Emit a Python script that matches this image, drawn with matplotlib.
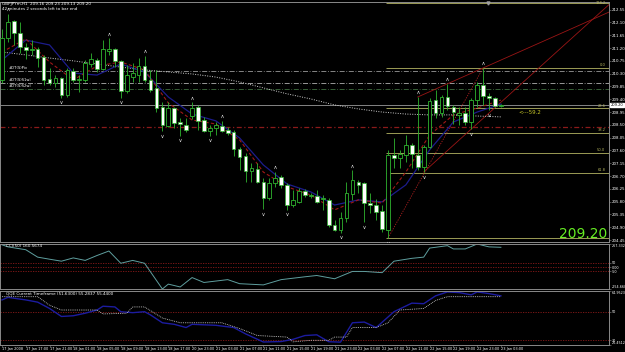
import matplotlib
matplotlib.use("Agg")
import matplotlib.pyplot as plt
import matplotlib.transforms as mtrans
import numpy as np

plt.rcParams['font.family'] = 'DejaVu Sans'

# ---------------- data (GBPJPY H1) ----------------
opens = [210.08, 211.55, 212.15, 211.73, 211.24, 211.13, 211.17, 210.89, 210.11, 209.97,
         210.15, 209.55, 210.39, 210.08, 210.08, 210.64, 210.78, 210.46, 211.10, 211.17,
         210.75, 209.69, 210.18, 210.25, 210.57, 210.08, 209.80, 209.13, 208.46, 209.09,
         208.60, 208.49, 208.81, 209.13, 208.67, 208.28, 208.39, 208.46, 208.32, 208.25,
         207.65, 207.41, 206.88, 206.95, 206.49, 205.93, 206.45, 206.67, 206.39, 205.68,
         205.79, 206.17, 206.00, 206.00, 205.89, 205.86, 204.98, 204.80, 205.22, 206.07,
         206.49, 206.45, 205.75, 205.68, 205.47, 204.80, 207.44, 207.33, 207.44, 207.79,
         207.44, 207.02, 207.72, 209.37, 208.92, 209.48, 209.13, 208.85, 208.92, 208.60,
         209.37, 209.90, 209.52, 209.45, 209.16]
highs = [211.87, 212.40, 212.19, 212.12, 211.38, 211.48, 211.24, 210.96, 210.50, 210.25,
         210.18, 210.50, 210.50, 210.25, 210.78, 211.03, 210.85, 211.48, 211.55, 211.20,
         210.78, 210.60, 210.68, 210.85, 210.92, 210.43, 210.43, 209.30, 209.30, 209.13,
         208.74, 208.74, 209.30, 209.20, 208.78, 208.49, 208.60, 208.64, 208.42, 208.32,
         207.72, 207.51, 207.16, 207.16, 206.63, 206.63, 206.84, 206.74, 206.45, 206.21,
         206.28, 206.24, 206.10, 206.21, 206.03, 205.93, 205.15, 205.44, 206.49, 206.91,
         206.56, 206.49, 206.10, 205.89, 205.68, 207.62, 208.04, 207.62, 208.14, 207.86,
         209.48, 207.79, 209.45, 209.73, 209.55, 209.94, 209.20, 209.13, 209.13, 209.45,
         210.01, 210.50, 209.62, 209.48, 209.23]
lows = [209.97, 211.41, 211.31, 211.03, 210.82, 210.96, 210.53, 209.90, 209.90, 209.83,
        209.45, 209.48, 210.01, 209.66, 210.01, 210.53, 210.36, 210.43, 210.96, 210.53,
        209.45, 209.62, 210.01, 210.01, 210.01, 209.66, 208.95, 208.28, 208.42, 208.39,
        208.11, 208.25, 208.70, 208.32, 208.25, 208.11, 208.14, 208.25, 208.14, 207.41,
        206.91, 206.49, 206.49, 206.45, 205.54, 205.86, 206.32, 206.28, 205.51, 205.61,
        205.75, 205.96, 205.93, 205.75, 205.51, 204.91, 204.77, 204.70, 205.08, 205.86,
        206.10, 205.08, 205.40, 205.15, 204.73, 204.52, 206.98, 206.98, 207.19, 206.98,
        206.91, 206.84, 207.69, 208.74, 208.78, 209.02, 208.53, 208.49, 208.49, 208.35,
        209.13, 209.20, 209.02, 209.13, 209.13]
closes = [211.55, 212.12, 211.73, 211.24, 211.13, 211.17, 210.85, 210.08, 209.97, 210.15,
          209.55, 210.43, 210.08, 210.11, 210.68, 210.82, 210.46, 211.17, 211.17, 210.75,
          209.69, 210.25, 210.32, 210.57, 210.08, 209.73, 209.09, 208.49, 209.09, 208.57,
          208.53, 208.32, 209.09, 208.64, 208.28, 208.39, 208.49, 208.28, 208.21, 207.65,
          207.37, 206.88, 206.98, 206.49, 205.93, 206.45, 206.63, 206.39, 205.68, 205.86,
          206.17, 206.03, 206.03, 205.79, 205.93, 204.98, 204.80, 205.22, 206.10, 206.56,
          206.39, 205.75, 205.68, 205.44, 204.84, 207.44, 207.33, 207.48, 207.79, 207.48,
          207.02, 207.72, 209.34, 208.92, 209.48, 209.16, 208.95, 208.92, 208.60, 209.37,
          209.90, 209.52, 209.45, 209.16, 209.20]

frac_up = [1, 18, 24, 32, 37, 46, 59, 70, 75, 81]
frac_dn = [10, 20, 27, 30, 35, 44, 48, 57, 61, 65, 71, 79, 82]

# moving averages, read every 4 bars
ma_bars = [0, 4, 8, 12, 16, 20, 24, 28, 32, 36, 40, 44, 48, 52, 56, 60, 64, 68, 72, 76, 80, 84]
ma_long = [211.06, 210.96, 210.85, 210.75, 210.64, 210.53, 210.43, 210.36, 210.29, 210.18, 210.01,
           209.80, 209.59, 209.41, 209.20, 209.06, 208.95, 208.88, 208.85, 208.85, 208.81, 208.78]
ma_red = [211.06, 211.52, 210.71, 210.08, 210.57, 210.71, 210.43, 209.27, 208.67, 208.53, 207.97,
          206.84, 206.32, 206.03, 205.51, 205.86, 205.75, 206.84, 208.14, 208.85, 209.09, 209.37]
ma_blue = [210.78, 211.48, 211.31, 210.32, 210.25, 210.64, 210.36, 209.48, 208.88, 208.64, 208.04,
           207.09, 206.42, 206.14, 205.68, 205.86, 205.79, 206.39, 207.62, 208.60, 208.95, 209.23]

piv_levels = [210.40, 209.96, 209.75]
piv_names = ["#DT(S)Piv", "#DT(S)S1wl", "#DT(S)S2wl"]
piv_colors = ["#9a9a9a", "#b0b0b0", "#3f6f3f"]
red_level = 208.43

fib_low_bar, fib_low = 65, 204.52
fib_high_bar, fib_high = 81, 210.50
fib_ratios = [-38.2, 0.0, 23.6, 38.2, 50.0, 61.8, 100.0]
fib_labels = ["138.2", "0.0", "23.6", "38.2", "50.0", "61.8", "100.0"]

price_ticks = [212.55, 212.10, 211.65, 211.20, 210.75, 210.30, 209.85, 209.40, 208.95, 208.50,
               208.05, 207.60, 207.15, 206.70, 206.25, 205.80, 205.35, 204.90, 204.45]

cci_bars = [0, 1, 4, 6, 8, 10, 12, 14, 16, 18, 20, 22, 24, 27, 28, 30, 32, 34, 38, 40, 44, 47,
            51, 53, 56, 59, 61, 64, 66, 69, 71, 72, 75, 76, 78, 80, 82, 84]
cci_vals = [258, 234, 201, 115, 91, 68, 106, 77, 134, 186, 44, 77, 44, -254.66, -198, -231,
            -122, -179, -146, -193, -207, -146, -113, -98, -136, -51, -51, -65, 68, 101, 115,
            220, 248, 210, 210, 267.332, 234, 229]

qqe_bars = [0, 1, 4, 6, 8, 10, 12, 14, 16, 17, 19, 20, 22, 24, 25, 27, 29, 31, 32, 36, 39, 41,
            44, 47, 49, 51, 53, 55, 57, 59, 61, 63, 66, 69, 71, 73, 75, 77, 79, 80, 82, 84]
qqe_fast = [58.6, 60.4, 58.6, 57.0, 52.5, 46.8, 47.3, 49.1, 51.4, 54.1, 53.6, 50.2, 49.5, 50.2,
            47.9, 42.3, 41.2, 38.9, 41.2, 40.5, 38.9, 34.4, 28.6, 28.9, 30.5, 33.2, 33.7, 28.8,
            28.5, 42.3, 42.8, 38.9, 50.2, 56.3, 55.9, 61.5, 64.3, 63.8, 62.2, 64.3, 63.1, 61.5]
slow_bars = [0, 6, 8, 10, 16, 17, 21, 22, 24, 27, 30, 37, 40, 43, 48, 49, 52, 55, 56, 58, 59,
             63, 65, 67, 71, 73, 75, 84]
qqe_slow = [60.9, 60.9, 54.8, 51.4, 51.4, 48.6, 49.1, 53.6, 53.6, 45.7, 42.3, 42.3, 38.2, 33.2,
            32.1, 28.7, 29.8, 29.8, 32.1, 32.1, 38.9, 38.9, 42.3, 51.4, 52.5, 58.2, 60.9, 60.9]

x_labels = ["17 Jan 2008", "17 Jan 17:00", "17 Jan 21:00", "18 Jan 01:00", "18 Jan 05:00",
            "18 Jan 09:00", "18 Jan 13:00", "18 Jan 17:00", "20 Jan 23:00", "21 Jan 03:00",
            "21 Jan 07:00", "21 Jan 11:00", "21 Jan 15:00", "21 Jan 19:00", "21 Jan 23:00",
            "22 Jan 03:00", "22 Jan 07:00", "22 Jan 11:00", "22 Jan 15:00", "22 Jan 19:00",
            "22 Jan 23:00", "23 Jan 03:00"]

# ---------------- figure ----------------
W, H = 625, 352
fig = plt.figure(figsize=(6.25, 3.52), dpi=100, facecolor='black')
XMIN, XMAX = -0.34, 102.2
green = '#2fb52f'
fs = 3.0


def panel(top, bottom):
    a = fig.add_axes([0, 1 - bottom / H, 609 / W, (bottom - top) / H])
    a.set_facecolor('black')
    for s in a.spines.values():
        s.set_color('#8a8a8a')
        s.set_linewidth(0.7)
    a.set_xlim(XMIN, XMAX)
    a.yaxis.tick_right()
    a.tick_params(axis='y', colors='#8a8a8a', labelcolor='white', labelsize=fs - 0.2,
                  length=1.2, width=0.4, pad=0.5)
    a.set_xticks([])
    return a


def ftext(xp, yp, s, **kw):
    fig.text(xp / W, 1 - yp / H, s, **kw)


def edge_labels(a):
    # keep the top / bottom scale labels inside their panel, like MT4 does
    labs = a.get_yticklabels()
    labs[0].set_va('top')
    labs[-1].set_va('bottom')


ax = panel(2, 242)
cci_ax = panel(244, 289)
qqe_ax = panel(291, 345)

# ---- main chart ----
ax.set_ylim(204.38, 212.82)
ax.set_yticks(price_ticks)
ax.set_yticklabels([f"{v:.2f}" for v in price_ticks])

for lvl, nm, col in zip(piv_levels, piv_names, piv_colors):
    ax.axhline(lvl, color=col, lw=0.6, ls=(0, (6, 2, 1, 2)), zorder=1)
    ax.text(1.2, lvl + 0.04, nm, color='white', fontsize=fs - 0.3, va='bottom', zorder=6)
ax.axhline(red_level, color='#8b1a1a', lw=0.9, ls=(0, (4, 2, 1, 2)), zorder=1)
ax.axhline(closes[-1], color='#9a9a9a', lw=0.6, zorder=1)

# fibonacci
rng = fib_high - fib_low
for r, lab in zip(fib_ratios, fib_labels):
    lv = fib_high - r / 100 * rng
    ax.hlines(lv, fib_low_bar - 0.3, XMAX, color='#9b9b55', lw=0.7, zorder=1)
    if lab == "100.0":
        continue
    top = lv > 212.5
    ax.text(101.6, lv + (0.0 if top else 0.02), lab, color='#b8b860', fontsize=fs - 0.4,
            ha='right', va='center' if top else 'bottom', zorder=6)
ax.plot([fib_low_bar, fib_high_bar], [fib_low, fib_high], color='#b02020', lw=0.6,
        ls=(0, (1.5, 1.5)), zorder=2)

# trend lines (rays from two fractal points)
for b1, p1, b2, p2 in [(70, highs[70], 81, highs[81]), (71, lows[71], 79, lows[79])]:
    slope = (p2 - p1) / (b2 - b1)
    ax.plot([b1, XMAX], [p1, p1 + slope * (XMAX - b1)], color='#9a1515', lw=0.6, zorder=2)

# moving averages
ax.plot(ma_bars, ma_long, color='#cfcfcf', lw=0.7, ls=(0, (1, 1.5)), zorder=2)
ax.plot(ma_bars, ma_blue, color='#1c1c8c', lw=0.9, zorder=2)
ax.plot(ma_bars, ma_red, color='#a01818', lw=0.8, ls=(0, (3, 2)), zorder=2)

# candles
o = np.array(opens)
c = np.array(closes)
xb = np.arange(len(opens))
up = c >= o
lo = np.minimum(o, c)
hgt = np.maximum(np.abs(c - o), 0.03)
ax.vlines(xb, lows, highs, color=green, lw=0.6, zorder=3)
ax.bar(xb[up], hgt[up], 0.62, bottom=lo[up], facecolor='black', edgecolor=green, lw=0.6,
       zorder=4)
ax.bar(xb[~up], hgt[~up], 0.62, bottom=lo[~up], facecolor='white', edgecolor=green, lw=0.5,
       zorder=4)

# fractals
ax.scatter(frac_up, [highs[i] + 0.16 for i in frac_up], marker=r'$\wedge$', s=5,
           color='#e0e0e0', lw=0, zorder=5)
ax.scatter(frac_dn, [lows[i] - 0.16 for i in frac_dn], marker=r'$\vee$', s=5,
           color='#e0e0e0', lw=0, zorder=5)

ax.text(101.9, 204.40, f"{closes[-1]:.2f}", color='#66ee22', fontsize=10, ha='right',
        va='bottom', zorder=7)
ax.text(87.0, 208.95, "<---59.2", color='#c8c828', fontsize=fs + 1.0, va='center', zorder=7)
ax.plot(81.8, 212.80, marker='v', ms=2.2, color='#a0a0a0', clip_on=False, zorder=7)

tr = mtrans.blended_transform_factory(ax.transAxes, ax.transData)
ax.text(1.003, closes[-1], f"{closes[-1]:.2f}", transform=tr, fontsize=fs - 0.4,
        color='black', va='center', ha='left', clip_on=False, zorder=8,
        bbox=dict(boxstyle='square,pad=0.12', fc='white', ec='white'))

ftext(2, 4, f"GBPJPYm,H1  {opens[-1]:.2f} {highs[-1]:.2f} {lows[-1]:.2f} {closes[-1]:.2f}",
      color='white', fontsize=fs, va='center')
ftext(2, 9, "42 minutes 2 seconds left to bar end", color='white', fontsize=fs,
      va='center')

# ---- CCI ----
cci_ax.set_ylim(-254.66, 267.332)
for lv in [50, 0, -50]:
    cci_ax.axhline(lv, color='#8b1a1a', lw=0.6, ls=(0, (1.5, 1.5)))
cci_ax.plot(cci_bars, cci_vals, color='#5f9f9f', lw=0.7)
cci_ax.set_yticks([267.332, 50, 0, -50, -254.66])
cci_ax.set_yticklabels(["267.332", "50", "0.00", "-50", "-254.660"], fontsize=fs - 0.6)
edge_labels(cci_ax)
cci_ax.text(0.6, 240, "CCI(50) 160.5674", color='white', fontsize=fs, va='center')

# ---- QQE ----
qqe_ax.set_ylim(26.4512, 64.9523)
for lv in [50, 30]:
    qqe_ax.axhline(lv, color='#8b1a1a', lw=0.6, ls=(0, (1.5, 1.5)))
qqe_ax.plot(qqe_bars, qqe_fast, color='#1c1ca0', lw=1.0)
qqe_ax.plot(slow_bars, qqe_slow, color='#d8d8d8', lw=0.6, ls=(0, (1, 1.2)))
qqe_ax.set_yticks([64.9523, 50, 30, 26.4512])
qqe_ax.set_yticklabels(["64.9523", "50", "30", "26.4512"], fontsize=fs - 0.6)
edge_labels(qqe_ax)
qqe_ax.text(0.6, 63.0, "QQE Current Timeframe (51.6300) 55.2837 55.4400", color='white',
            fontsize=fs, va='center')
qqe_ax.set_xticks(range(0, 85, 4))
qqe_ax.set_xticklabels(x_labels, ha='left')
qqe_ax.tick_params(axis='x', colors='#8a8a8a', labelcolor='white', labelsize=fs - 0.5,
                   length=1.2, width=0.4, pad=0.5)

fig.savefig("out.png", dpi=100, facecolor='black')
